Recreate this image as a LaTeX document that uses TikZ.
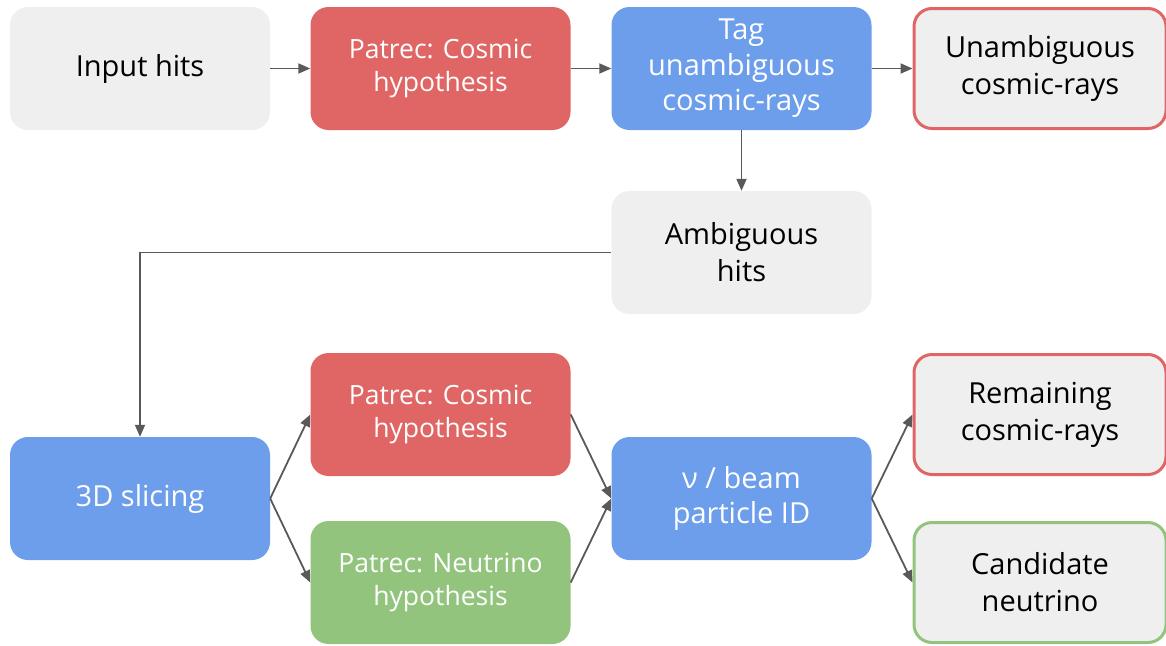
\documentclass[tikz,border=0pt]{standalone}
\usepackage{fontspec}
\setmainfont{Open Sans}
\usetikzlibrary{arrows.meta}
\definecolor{cosmicred}{HTML}{E06666}
\definecolor{sliceblue}{HTML}{6D9EEB}
\definecolor{nugreen}{HTML}{93C47D}
\definecolor{hitgrey}{HTML}{EFEFEF}
\definecolor{linegrey}{HTML}{595959}

\begin{document}
\begin{tikzpicture}[x=1pt,y=-1pt,
  box/.style={rounded corners=18pt,minimum width=260pt,minimum height=123pt,
    align=center,inner sep=0pt},
  greybox/.style={box,fill=hitgrey,text=black,font=\fontsize{29}{37}\selectfont},
  outbox/.style={greybox,line width=3pt,minimum width=252pt,minimum height=120pt},
  redbox/.style={box,fill=cosmicred,text=white,font=\fontsize{26.5}{33}\selectfont},
  bluebox/.style={box,fill=sliceblue,text=white,font=\fontsize{29}{35.5}\selectfont},
  greenbox/.style={box,fill=nugreen,text=white,font=\fontsize{26.5}{33}\selectfont},
  flow/.style={draw=linegrey,line width=1.8pt,-{Triangle[length=12pt,width=10pt]}}]
  \useasboundingbox (0,0) rectangle (1166,645);
  % first pass: cosmic hypothesis on all hits
  \node[greybox] (input) at (140,68.5) {Input hits};
  \node[redbox] (cosmic1) at (440.5,68.5) {Patrec: Cosmic\\hypothesis};
  \node[bluebox] (tag) at (741.5,68.5) {Tag\\unambiguous\\cosmic-rays};
  \node[outbox,draw=cosmicred] (unamb) at (1040,68.5) {Unambiguous\\cosmic-rays};
  \node[greybox] (amb) at (741.5,252.5) {Ambiguous\\hits};
  % second pass: slicing and both hypotheses
  \node[bluebox] (slice) at (140,498.5) {3D slicing};
  \node[redbox] (cosmic2) at (440.5,414.5) {Patrec: Cosmic\\hypothesis};
  \node[greenbox] (nuhyp) at (440.5,582.5) {Patrec: Neutrino\\hypothesis};
  \node[bluebox] (beamid) at (741.5,498.5) {ν / beam\\particle ID};
  \node[outbox,draw=cosmicred] (remain) at (1040,414.5) {Remaining\\cosmic-rays};
  \node[outbox,draw=nugreen] (cand) at (1040,582.5) {Candidate\\neutrino};

  \draw[flow] (input) -- (cosmic1);
  \draw[flow] (cosmic1) -- (tag);
  \draw[flow] (tag) -- (unamb);
  \draw[flow] (tag) -- (amb);
  \draw[flow] (amb.west) -| (slice.north);
  \draw[flow] (slice.east) -- (cosmic2.west);
  \draw[flow] (slice.east) -- (nuhyp.west);
  \draw[flow] (cosmic2.east) -- (beamid.west);
  \draw[flow] (nuhyp.east) -- (beamid.west);
  \draw[flow] (beamid.east) -- (remain.west);
  \draw[flow] (beamid.east) -- (cand.west);
\end{tikzpicture}
\end{document}
